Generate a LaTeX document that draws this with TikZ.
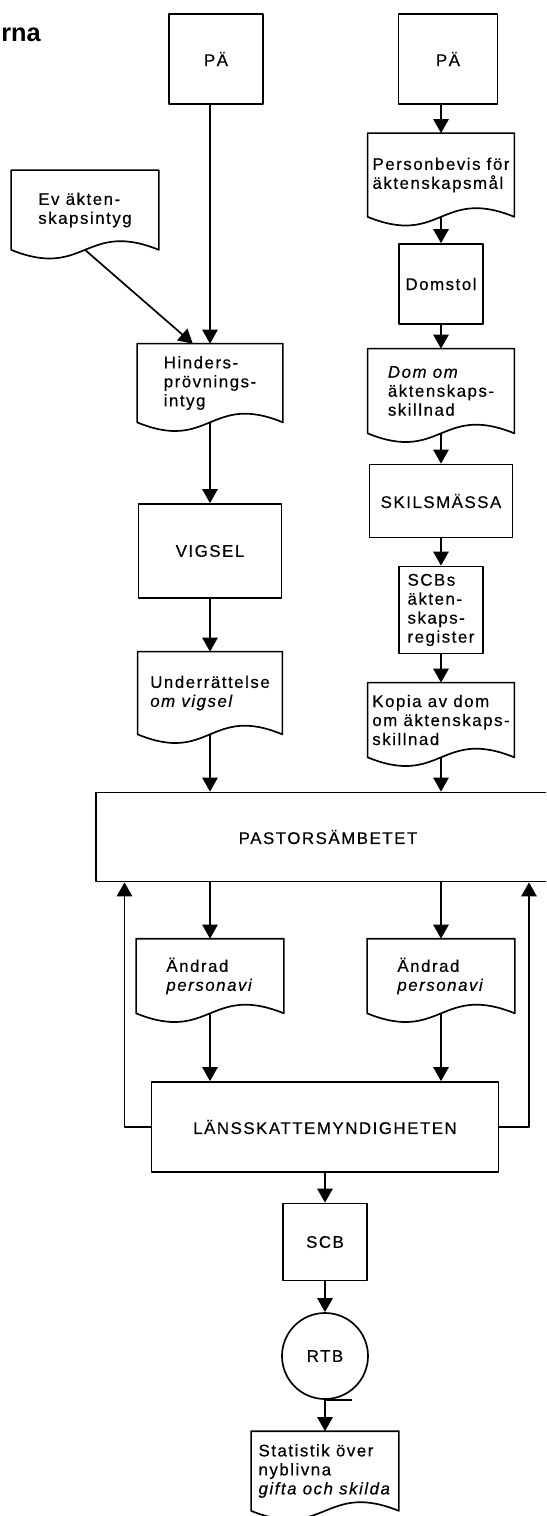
\documentclass[tikz,border=0pt]{standalone}
\usepackage{fontspec}
\setmainfont{Liberation Sans}
\newfontfamily\labelfont{Liberation Sans}[LetterSpace=9,FakeBold=0.4]
\usetikzlibrary{arrows.meta}

\begin{document}
\begin{tikzpicture}[x=0.025cm,y=-0.025cm,>={Triangle[width=11pt,length=10pt]},
  line width=1.2pt,line join=round,
  every node/.style={font=\labelfont\fontsize{12}{13.5}\selectfont},
  box/.style={draw,inner sep=0pt,align=center},
  doc/.style={inner sep=0pt,align=left}]
\clip (0,0) rectangle (546,1516);
\node[font=\fontsize{18}{22}\selectfont\bfseries,anchor=base west,inner sep=0pt] (title) at (0.5,41.7) {rna};
% left column
\node[box,minimum width=2.35cm,minimum height=2.25cm] (pa1) at (216,59) {PÄ};
\node[doc,minimum width=3.65cm,minimum height=1.95cm] (evi) at (85,210) {Ev äkten-\\skapsintyg};
\node[doc,minimum width=3.6cm,minimum height=1.925cm] (hind) at (210,383) {Hinders-\\prövnings-\\intyg};
\node[box,minimum width=3.575cm,minimum height=2.35cm] (vigsel) at (210,551) {VIGSEL};
\node[doc,minimum width=3.575cm,minimum height=2.025cm] (underr) at (210,693) {Underrättelse\\\textit{om vigsel}};
% right column
\node[box,minimum width=2.475cm,minimum height=2.25cm] (pa2) at (448,59) {PÄ};
\node[doc,minimum width=3.625cm,minimum height=2.05cm] (pers) at (441,175) {Personbevis för\\äktenskapsmål};
\node[box,minimum width=2.09cm,minimum height=2cm] (domstol) at (441,284) {Domstol};
\node[doc,minimum width=3.625cm,minimum height=2.075cm] (dom) at (441,391) {\textit{Dom om}\\äktenskaps-\\skillnad};
\node[box,minimum width=3.575cm,minimum height=1.825cm] (skils) at (441,501) {SKILSMÄSSA};
\node[box,minimum width=2.09cm,minimum height=2.175cm,align=left] (reg) at (441,610) {SCBs\\äkten-\\skaps-\\register};
\node[doc,minimum width=3.625cm,minimum height=1.825cm] (kopia) at (441,720) {Kopia av dom\\om äktenskaps-\\skillnad};
% common part
\node[box,minimum width=11.6cm,minimum height=2.225cm] (pastor) at (328,837) {PASTORSÄMBETET};
\node[doc,minimum width=3.65cm,minimum height=1.825cm] (andr1) at (210,976) {Ändrad\\\textit{personavi}};
\node[doc,minimum width=3.65cm,minimum height=1.825cm] (andr2) at (441,976) {Ändrad\\\textit{personavi}};
\node[box,minimum width=8.675cm,minimum height=2.25cm] (lans) at (325,1127) {LÄNSSKATTEMYNDIGHETEN};
\node[box,minimum width=2.1cm,minimum height=1.925cm] (scb) at (325,1242) {SCB};
\node[draw,circle,minimum size=2.15cm,inner sep=0pt] (rtb) at (325,1356) {RTB};
\node[doc,minimum width=3.65cm,minimum height=1.95cm] (stat) at (325,1471) {Statistik över\\nyblivna\\\textit{gifta och skilda}};
\coordinate (lloop) at (124.5,1127);
\coordinate (rloop) at (529,1127);
% document outlines
\foreach \d in {evi,hind,underr,pers,dom,kopia,andr1,andr2,stat}
  \draw (\d.south east) .. controls ([yshift=0.75cm]\d.south) and ([yshift=-0.75cm]\d.south) .. (\d.south west)
    -- (\d.north west) -- (\d.north east) -- cycle;
% arrows
\draw[->] (pa1.south -| hind.north) -- (hind.north);
\draw[->] (evi.south) -- ([xshift=-0.43cm]hind.north);
\draw[->] (hind.south) -- (vigsel.north);
\draw[->] (vigsel.south) -- (underr.north);
\draw[->] (underr.south) -- (underr.south |- pastor.north);
\draw[->] (pa2.south -| pers.north) -- (pers.north);
\draw[->] (pers.south) -- (domstol.north);
\draw[->] (domstol.south) -- (dom.north);
\draw[->] (dom.south) -- (skils.north);
\draw[->] (skils.south) -- (reg.north);
\draw[->] (reg.south) -- (kopia.north);
\draw[->] (kopia.south) -- (kopia.south |- pastor.north);
\draw[->] (pastor.south -| andr1.north) -- (andr1.north);
\draw[->] (pastor.south -| andr2.north) -- (andr2.north);
\draw[->] (andr1.south) -- (andr1.south |- lans.north);
\draw[->] (andr2.south) -- (andr2.south |- lans.north);
\draw[->] (lans.west) -- (lloop) -- (lloop |- pastor.south);
\draw[->] (lans.east) -- (rloop) -- (rloop |- pastor.south);
\draw[->] (lans.south) -- (scb.north);
\draw[->] (scb.south) -- (rtb.north);
\draw (rtb.south) -- ([xshift=0.68cm]rtb.south);
\draw[->] (rtb.south) -- (stat.north);
\end{tikzpicture}
\end{document}
